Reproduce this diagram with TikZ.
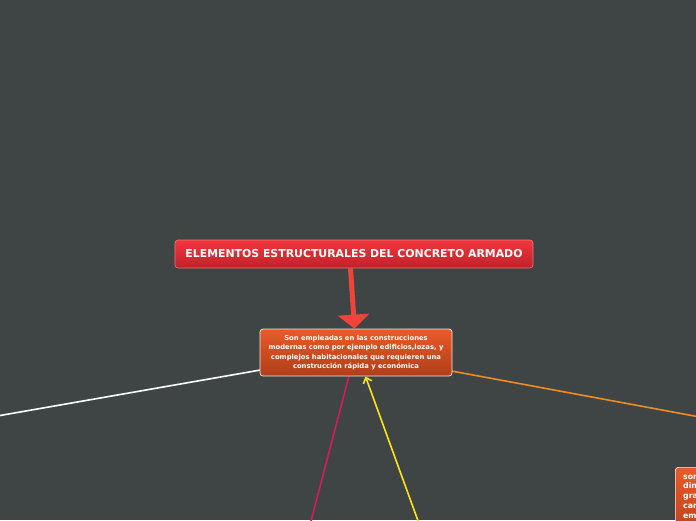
\documentclass[tikz,border=0pt]{standalone}
\usepackage{fontspec}
\setmainfont{DejaVu Sans}
\usetikzlibrary{arrows.meta}
\definecolor{bg}{HTML}{3F4545}
\definecolor{redtop}{HTML}{F2363E}
\definecolor{redbot}{HTML}{BE222A}
\definecolor{ortop}{HTML}{EA5A28}
\definecolor{orbot}{HTML}{B03E1A}
\definecolor{arrred}{HTML}{F0443A}
\definecolor{lorange}{HTML}{F28A24}
\definecolor{lcrimson}{HTML}{D81A5A}
\definecolor{lyellow}{HTML}{FFE31A}
\tikzset{
  mainbox/.style={draw=redtop!70!white, line width=0.6pt, rounded corners=3pt, top color=redtop, bottom color=redbot, text=white, font=\bfseries\fontsize{10.9}{12}\selectfont, minimum width=358pt, minimum height=28pt, inner sep=0pt},
  subbox/.style={draw=white!85!ortop, line width=0.7pt, rounded corners=3pt, top color=ortop, bottom color=orbot, text=white, font=\bfseries\fontsize{6.8}{9.5}\selectfont, align=center, minimum width=192pt, minimum height=47pt, inner sep=0pt},
  sidebox/.style={draw=white!85!ortop, line width=0.7pt, rounded corners=3pt, top color=ortop, bottom color=orbot, text=white, minimum width=60pt, minimum height=80pt, inner sep=0pt, anchor=north west},
  conn/.style={line width=1.6pt}
}
\begin{document}
\begin{tikzpicture}[x=1pt,y=-1pt]
\useasboundingbox (0,0) rectangle (696,520);
\clip (0,0) rectangle (696,520);
\fill[bg] (0,0) rectangle (696,520);
\coordinate (wend) at (-20,419);
\coordinate (oend) at (716,420);
\coordinate (cend) at (306,540);
\coordinate (yend) at (425,540);
\node[sidebox] (s) at (675,467) {};
\node[anchor=north west, text=white, font=\bfseries\fontsize{7.8}{9.8}\selectfont, align=left, inner sep=0pt] (st) at (683,474.5) {son\\din\\gra\\car\\em};
\draw[conn, white] (260.5,370) -- (wend);
\draw[conn, lorange] (451.5,371) -- (oend);
\draw[conn, lcrimson] (349,376) -- (cend);
\node[mainbox] (m) at (354,254) {ELEMENTOS ESTRUCTURALES DEL CONCRETO ARMADO};
\node[subbox] (b) at (356,352.5) {Son empleadas en las construcciones\\modernas como por ejemplo edificios,lozas, y\\complejos habitacionales que requieren una\\construcción rápida y económica};
\coordinate (ms) at ([xshift=-3.5pt]m.south);
\coordinate (bn) at ([xshift=-1.5pt]b.north);
\draw[arrred, line width=5pt, -{Triangle[width=31pt,length=14pt]}] (ms) -- (bn);
\draw[conn, lyellow, -{Straight Barb[length=5pt,width=9pt]}] (yend) -- (365.5,376.5);
\end{tikzpicture}
\end{document}
